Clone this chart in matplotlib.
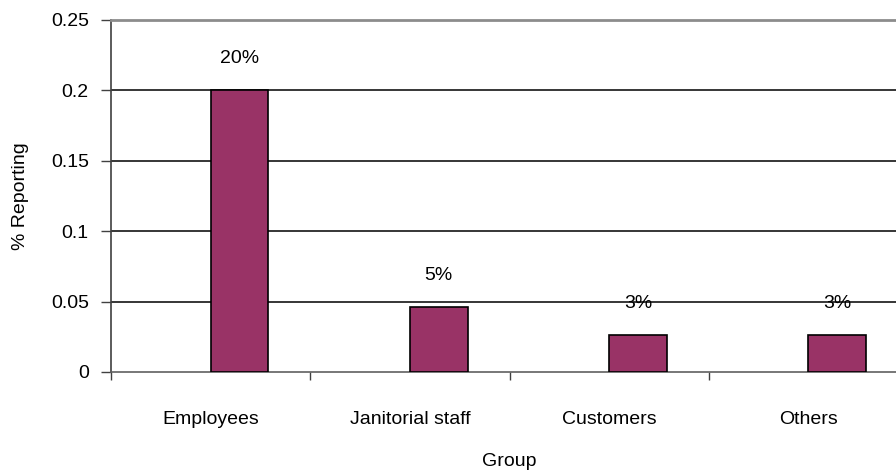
import matplotlib
matplotlib.use("Agg")
import matplotlib.pyplot as plt
from matplotlib.ticker import FixedLocator, NullFormatter

categories = ["Employees", "Janitorial staff", "Customers", "Others"]
share_reporting = [0.20, 0.046, 0.026, 0.026]
y_ticks = [0, 0.05, 0.1, 0.15, 0.2, 0.25]
y_tick_labels = ["0", "0.05", "0.1", "0.15", "0.2", "0.25"]

plt.rcParams["font.family"] = ["Liberation Sans", "DejaVu Sans"]
FS = 14

fig = plt.figure(figsize=(8.96, 4.76), dpi=100)
ax = fig.add_axes([111 / 896, 104 / 476, 797 / 896, 352 / 476])

x = list(range(len(categories)))
bars = ax.bar(x, share_reporting, width=0.29, align="edge",
              color="#993366", edgecolor="black", linewidth=1.2, zorder=3)

for b, v in zip(bars, share_reporting):
    ax.annotate(f"{v:.0%}", (b.get_x() + b.get_width() / 2, v),
                xytext=(0, 23), textcoords="offset points",
                ha="center", va="center", fontsize=FS)

ax.set_xlim(-0.5, len(categories) - 0.5)
ax.set_ylim(0, 0.25)

# category boundaries carry the tick marks, centres carry the labels
ax.xaxis.set_major_locator(FixedLocator([i - 0.5 for i in range(len(categories) + 1)]))
ax.xaxis.set_major_formatter(NullFormatter())
ax.xaxis.set_minor_locator(FixedLocator(x))
ax.set_xticks(x, categories, minor=True, fontsize=FS)
ax.tick_params(axis="x", which="major", length=6, width=1, color="#404040", direction="out")
ax.tick_params(axis="x", which="minor", length=0, pad=28)

ax.set_yticks(y_ticks, y_tick_labels, fontsize=FS)
ax.tick_params(axis="y", length=7, width=1, color="#404040", pad=9)

for yv in y_ticks[1:-1]:
    ax.axhline(yv, color="black", linewidth=1.1, zorder=1)

ax.spines["right"].set_visible(False)
ax.spines["top"].set_color("#8c8c8c")
ax.spines["top"].set_linewidth(2)
ax.spines["left"].set_color("#404040")
ax.spines["left"].set_linewidth(1.2)
ax.spines["bottom"].set_color("#606060")
ax.spines["bottom"].set_linewidth(1.2)

ax.set_ylabel("% Reporting", fontsize=FS)
ax.set_xlabel("Group", fontsize=FS)
ax.yaxis.set_label_coords(-(111 - 29) / 797, 0.5)
ax.xaxis.set_label_coords((509 - 111) / 797, -(453 - 372) / 352)

fig.savefig("out.png", dpi=100)
